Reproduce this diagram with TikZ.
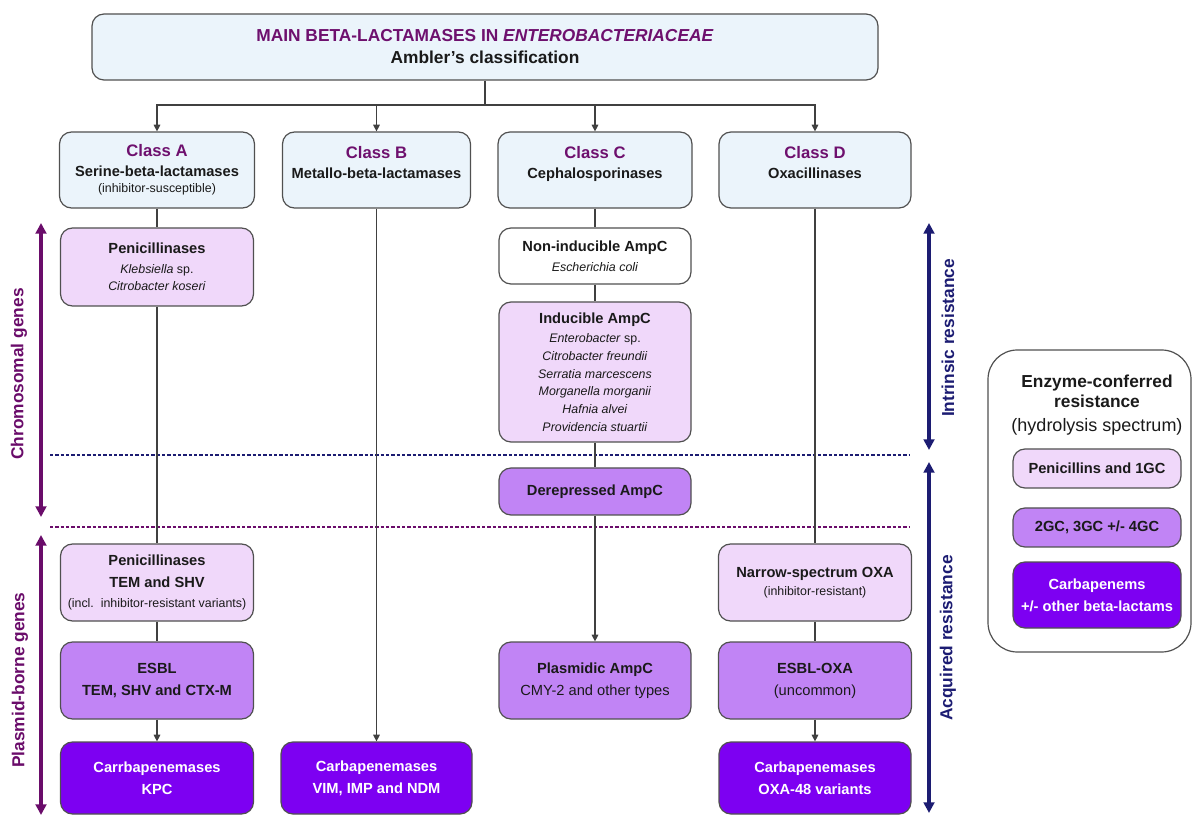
\documentclass[tikz,border=0pt]{standalone}
\usepackage{fontspec}
\setmainfont{Liberation Sans}
\usepackage{tikz}
\usetikzlibrary{arrows.meta}
\definecolor{cls-blue}{HTML}{EBF4FB}
\definecolor{pen-lilac}{HTML}{F0D8FA}
\definecolor{esbl-violet}{HTML}{C184F5}
\definecolor{carb-violet}{HTML}{7D00F2}
\definecolor{cls-purple}{HTML}{6E106E}
\definecolor{gene-purple}{HTML}{6A0C6A}
\definecolor{navy-dark}{HTML}{1C1C72}
\definecolor{box-gray}{HTML}{505050}
\definecolor{link-gray}{HTML}{404040}
\definecolor{txt-dark}{HTML}{1A1A1A}
\newdimen\blpx
\setlength{\blpx}{0.75pt}
\tikzstyle{blboxstyle}=[shape=rectangle,rounded corners=9pt,draw=box-gray,line width=0.9pt,align=center,inner sep=0pt,text=txt-dark]
\tikzstyle{topstyle}=[blboxstyle,fill=cls-blue,font=\fontsize{13}{16.5}\selectfont\bfseries]
\tikzstyle{classstyle}=[blboxstyle,fill=cls-blue,font=\fontsize{11}{15}\selectfont\bfseries]
\tikzstyle{specstyle}=[blboxstyle,font=\fontsize{9.3}{13.3}\selectfont]
\tikzstyle{lowstyle}=[blboxstyle,font=\fontsize{11}{16.5}\selectfont\bfseries]
\tikzstyle{carbstyle}=[lowstyle,fill=carb-violet,text=white]
\tikzstyle{legframestyle}=[shape=rectangle,rounded corners=22pt,draw=box-gray,line width=0.9pt]
\tikzstyle{linkstyle}=[draw=link-gray,line width=0.8pt]
\tikzstyle{arrowstyle}=[linkstyle,-{Triangle[length=5pt,width=5pt]}]
\tikzstyle{sidestyle}=[line width=2.6pt,{Triangle[length=8pt,width=8pt]}-{Triangle[length=8pt,width=8pt]}]
\tikzstyle{sidelabelstyle}=[rotate=90,font=\fontsize{13}{15}\selectfont\bfseries]
\tikzstyle{cutstyle}=[line width=0.8pt,dash pattern=on 2.5pt off 1.5pt]
\newcommand{\blbox}[7]{ \draw (#3,#4) node [style=#2,minimum width=#5\blpx,minimum height=#6\blpx] (#1) {#7}; }
\newcommand{\bllink}[2]{ \draw [style=linkstyle] (#1.south) -- (#2.north); }
\newcommand{\blarrow}[2]{ \draw [style=arrowstyle] (#1.south) -- (#2.north); }
\newcommand{\clsname}[1]{{\fontsize{12.5}{15}\selectfont\color{cls-purple}#1}}
\newcommand{\blsmall}[1]{{\fontsize{9.3}{12}\selectfont\mdseries #1}}
\newcommand{\blhead}[1]{{\fontsize{11}{13}\selectfont\bfseries #1}}

\begin{document}
\begin{tikzpicture}[x=\blpx,y=-\blpx]
\useasboundingbox (0,0) rectangle (1193,816);
% split lines
\coordinate (cutIleft) at (50,455); \coordinate (cutIright) at (910,455);
\coordinate (cutIIleft) at (50,527); \coordinate (cutIIright) at (910,527);
\draw [style=cutstyle,draw=navy-dark] (cutIleft) -- (cutIright); %
\draw [style=cutstyle,draw=gene-purple] (cutIIleft) -- (cutIIright); %
% header and classes
\blbox{topbox}{topstyle}{485}{47}{786}{66}{{\color{cls-purple}MAIN BETA-LACTAMASES IN \textit{ENTEROBACTERIACEAE}}\\Ambler’s classification} %
\blbox{clsA}{classstyle}{157}{170}{195}{76}{\clsname{Class A}\\Serine-beta-lactamases\\[-3pt]\blsmall{(inhibitor-susceptible)}} %
\blbox{clsB}{classstyle}{376.5}{170}{188}{76}{\clsname{Class B}\\Metallo-beta-lactamases\\[-3pt]\mbox{}} %
\blbox{clsC}{classstyle}{595}{170}{194}{76}{\clsname{Class C}\\Cephalosporinases\\[-3pt]\mbox{}} %
\blbox{clsD}{classstyle}{815}{170}{192}{76}{\clsname{Class D}\\Oxacillinases\\[-3pt]\mbox{}} %
% chromosomal part
\blbox{penA}{specstyle,fill=pen-lilac}{157}{267}{193}{78}{\blhead{Penicillinases}\\[1.5pt]\textit{Klebsiella} sp.\\\textit{Citrobacter koseri}} %
\blbox{nonindC}{specstyle,fill=white}{595}{256}{192}{56}{\blhead{Non-inducible AmpC}\\[1.5pt]\textit{Escherichia coli}} %
\blbox{indC}{specstyle,fill=pen-lilac}{595}{372}{192}{140}{\blhead{Inducible AmpC}\\[1.5pt]\textit{Enterobacter} sp.\\\textit{Citrobacter freundii}\\\textit{Serratia marcescens}\\\textit{Morganella morganii}\\\textit{Hafnia alvei}\\\textit{Providencia stuartii}} %
\blbox{derepC}{lowstyle,fill=esbl-violet}{595}{491.5}{192}{47}{Derepressed AmpC} %
% plasmid part
\blbox{penTEM}{lowstyle,fill=pen-lilac}{157}{582.5}{193}{77}{Penicillinases\\TEM and SHV\\[-1.5pt]\blsmall{(incl.\ \ inhibitor-resistant variants)}} %
\blbox{esblA}{lowstyle,fill=esbl-violet}{157}{680.5}{193}{77}{ESBL\\TEM, SHV and CTX-M} %
\blbox{kpcA}{carbstyle}{157}{778}{193}{72}{Carrbapenemases\\KPC} %
\blbox{vimB}{carbstyle}{376.5}{778}{191}{72}{Carbapenemases\\VIM, IMP and NDM} %
\blbox{plasC}{lowstyle,fill=esbl-violet}{595}{680.5}{192}{77}{Plasmidic AmpC\\{\mdseries CMY-2 and other types}} %
\blbox{narrowD}{lowstyle,fill=pen-lilac}{815}{582.5}{193}{77}{Narrow-spectrum OXA\\[-2.5pt]\blsmall{(inhibitor-resistant)}} %
\blbox{esblD}{lowstyle,fill=esbl-violet}{815}{680.5}{193}{77}{ESBL-OXA\\{\mdseries (uncommon)}} %
\blbox{oxaD}{carbstyle}{815}{778}{192}{72}{Carbapenemases\\OXA-48 variants} %
% connectors
\coordinate (hub) at (485,105);
\draw [style=linkstyle] (topbox.south) -- (hub); %
\draw [style=arrowstyle] (hub) -| (clsA.north); %
\draw [style=arrowstyle] (hub) -| (clsB.north); %
\draw [style=arrowstyle] (hub) -| (clsC.north); %
\draw [style=arrowstyle] (hub) -| (clsD.north); %
\bllink{clsA}{penA} %
\bllink{penA}{penTEM} %
\bllink{penTEM}{esblA} %
\blarrow{esblA}{kpcA} %
\blarrow{clsB}{vimB} %
\bllink{clsC}{nonindC} %
\bllink{nonindC}{indC} %
\bllink{indC}{derepC} %
\blarrow{derepC}{plasC} %
\bllink{clsD}{narrowD} %
\bllink{narrowD}{esblD} %
\blarrow{esblD}{oxaD} %
% side scales
\coordinate (chromtop) at (41,223); \coordinate (chrombot) at (41,517);
\coordinate (plastop) at (41,535); \coordinate (plasbot) at (41,815);
\coordinate (intrtop) at (929,223); \coordinate (intrbot) at (929,450);
\coordinate (acqtop) at (929,462); \coordinate (acqbot) at (929,813);
\draw [style=sidestyle,draw=gene-purple] (chromtop) -- (chrombot); %
\draw [style=sidestyle,draw=gene-purple] (plastop) -- (plasbot); %
\draw [style=sidestyle,draw=navy-dark] (intrtop) -- (intrbot); %
\draw [style=sidestyle,draw=navy-dark] (acqtop) -- (acqbot); %
\draw (19,374) node [style=sidelabelstyle,text=gene-purple] (chromlabel) {Chromosomal genes}; %
\draw (20,680) node [style=sidelabelstyle,text=gene-purple] (plaslabel) {Plasmid-borne genes}; %
\draw (948,338) node [style=sidelabelstyle,text=navy-dark] (intrlabel) {Intrinsic resistance}; %
\draw (948,638) node [style=sidelabelstyle,text=navy-dark] (acqlabel) {Acquired resistance}; %
% legend
\blbox{legframe}{legframestyle}{1089.5}{501}{203}{302}{} %
\draw (1097,405) node [align=center,text=txt-dark,font=\fontsize{13}{15}\selectfont\bfseries] (legtitle) {Enzyme-conferred\\resistance\\[3pt]{\fontsize{13.5}{15}\selectfont\mdseries (hydrolysis spectrum)}}; %
\blbox{legpen}{lowstyle,fill=pen-lilac}{1097}{468.5}{168}{39}{Penicillins and 1GC} %
\blbox{legesbl}{lowstyle,fill=esbl-violet}{1097}{527.5}{168}{39}{2GC, 3GC +/- 4GC} %
\blbox{legcarb}{carbstyle}{1097}{595}{168}{66}{Carbapenems\\+/- other beta-lactams} %
\end{tikzpicture}
\end{document}
